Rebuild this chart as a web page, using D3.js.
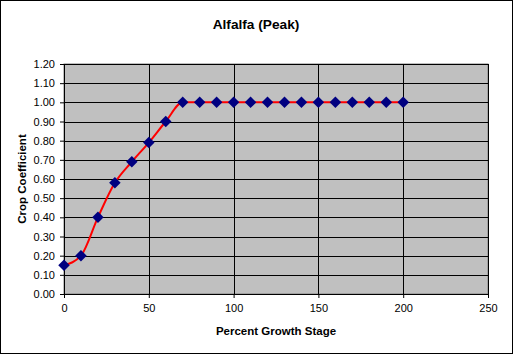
<!DOCTYPE html>
<html>
<head>
<meta charset="utf-8">
<script src="https://cdn.jsdelivr.net/npm/d3@7"></script>
<style>
  body { margin: 0; background: #fff; }
  svg text { font-family: "Liberation Sans", Arial, sans-serif; }
</style>
</head>
<body>
<div id="chart"></div>
<script>
// data
var growthStage = [0, 10, 20, 30, 40, 50, 60, 70, 80, 90, 100, 110, 120, 130, 140, 150, 160, 170, 180, 190, 200];
var cropCoef = [0.15, 0.20, 0.40, 0.58, 0.69, 0.79, 0.90, 1.00, 1.00, 1.00, 1.00, 1.00, 1.00, 1.00, 1.00, 1.00, 1.00, 1.00, 1.00, 1.00, 1.00];
var xTicks = [0, 50, 100, 150, 200, 250];
var yTicks = [0, 0.1, 0.2, 0.3, 0.4, 0.5, 0.6, 0.7, 0.8, 0.9, 1.0, 1.1, 1.2];

var W = 513, H = 354;
var margin = { left: 64, right: 25, top: 64, bottom: 60 },
    width = W - margin.left - margin.right,
    height = H - margin.top - margin.bottom;

var svg = d3.select("#chart").append("svg")
    .attr("width", W)
    .attr("height", H);

// chart border
svg.append("rect")
    .attr("x", 0.5).attr("y", 0.5)
    .attr("width", W - 1).attr("height", H - 1)
    .attr("fill", "#fff")
    .attr("stroke", "#000");

svg.append("text")
    .attr("x", 256).attr("y", 29)
    .attr("text-anchor", "middle")
    .attr("font-size", "13.7px")
    .attr("font-weight", "bold")
    .text("Alfalfa (Peak)");

var g = svg.append("g")
    .attr("transform", "translate(" + margin.left + "," + margin.top + ")");

var x = d3.scaleLinear().domain([0, 250]).range([0, width]);
var y = d3.scaleLinear().domain([0, 1.2]).range([height, 0]);

// plot area
g.append("rect")
    .attr("width", width).attr("height", height)
    .attr("fill", "#c0c0c0")
    .attr("stroke", "#808080");

// gridlines
g.selectAll(".hgrid").data(yTicks).enter().append("line")
    .attr("x1", 0).attr("x2", width)
    .attr("y1", function(d) { return Math.round(y(d)) + 0.5; })
    .attr("y2", function(d) { return Math.round(y(d)) + 0.5; })
    .attr("stroke", "#000");
g.selectAll(".vgrid").data(xTicks).enter().append("line")
    .attr("y1", 0).attr("y2", height)
    .attr("x1", function(d) { return Math.round(x(d)) + 0.5; })
    .attr("x2", function(d) { return Math.round(x(d)) + 0.5; })
    .attr("stroke", "#000");

// axes
var xAxis = g.append("g")
    .attr("transform", "translate(0," + height + ")")
    .call(d3.axisBottom(x).tickValues(xTicks).tickSize(4).tickPadding(6).tickFormat(d3.format("d")));
var yAxis = g.append("g")
    .call(d3.axisLeft(y).tickValues(yTicks).tickSize(4).tickPadding(5).tickFormat(d3.format(".2f")));
[xAxis, yAxis].forEach(function(a) {
    a.selectAll("path").attr("stroke", "#000");
    a.selectAll("line").attr("stroke", "#000");
    a.selectAll("text").attr("font-size", "11px").attr("fill", "#000")
        .attr("font-family", "'Liberation Sans', Arial, sans-serif");
});

// axis titles
svg.append("text")
    .attr("x", margin.left + width / 2).attr("y", 335)
    .attr("text-anchor", "middle")
    .attr("font-size", "11.5px")
    .attr("font-weight", "bold")
    .text("Percent Growth Stage");
svg.append("text")
    .attr("transform", "translate(26," + (margin.top + height / 2) + ") rotate(-90)")
    .attr("text-anchor", "middle")
    .attr("font-size", "11.5px")
    .attr("font-weight", "bold")
    .text("Crop Coefficient");

var data = growthStage.map(function(d, i) { return { x: d, y: cropCoef[i] }; });

var line = d3.line()
    .x(function(d) { return x(d.x); })
    .y(function(d) { return y(d.y); })
    .curve(d3.curveMonotoneX);

g.append("path")
    .datum(data)
    .attr("d", line)
    .attr("fill", "none")
    .attr("stroke", "#ff0000")
    .attr("stroke-width", 2);

g.selectAll(".dot").data(data).enter().append("path")
    .attr("d", d3.symbol().type(d3.symbolDiamond2).size(84))
    .attr("transform", function(d) { return "translate(" + x(d.x) + "," + y(d.y) + ")"; })
    .attr("fill", "#000080");
</script>
</body>
</html>
